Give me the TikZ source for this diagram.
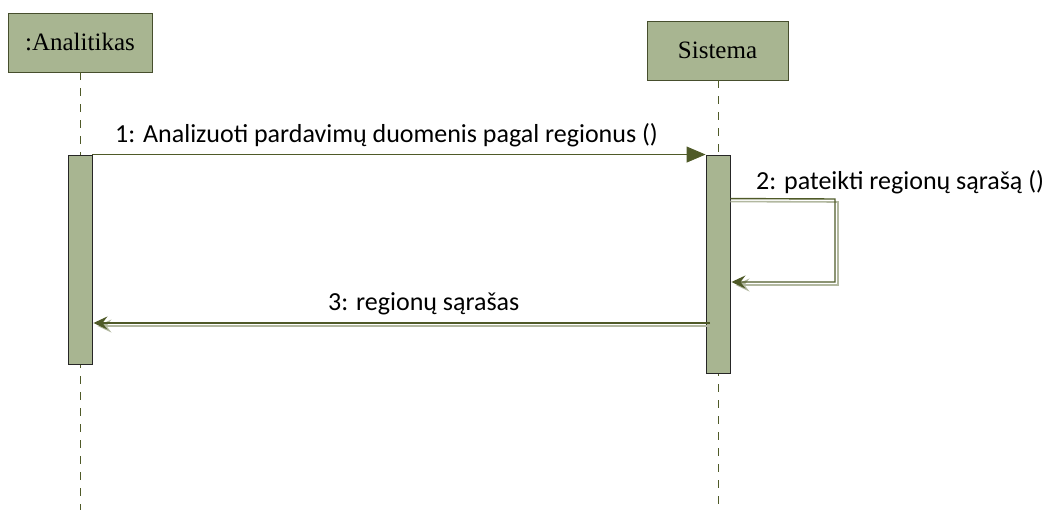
\documentclass[tikz,border=0pt]{standalone}
\usepackage{fontspec}
\setmainfont{Liberation Serif}
\newfontfamily\msgfont{Carlito}
\usetikzlibrary{arrows.meta}
\definecolor{sage}{RGB}{168,181,145}
\definecolor{olive}{RGB}{79,90,40}
\definecolor{edge}{RGB}{70,78,45}
\definecolor{shade}{RGB}{178,184,160}
\tikzset{
  x=1pt, y=-1pt,
  actor/.style={draw=edge, line width=0.9pt, fill=sage, inner sep=0pt, font=\fontsize{25}{28}\selectfont},
  actbar/.style={draw=black!85, line width=0.9pt, fill=sage, inner sep=0pt, minimum width=24pt},
  lifeline/.style={draw=olive, line width=0.8pt, dash pattern=on 8pt off 8pt},
  msg/.style={draw=olive, line width=1.4pt},
  msgshadow/.style={draw=shade, line width=1.6pt},
  msglabel/.style={font=\msgfont\fontsize{26}{30}\selectfont, inner sep=0pt, anchor=base west}
}
\begin{document}
\begin{tikzpicture}
\useasboundingbox (0,0) rectangle (1047,510);
% actors
\node[actor, minimum width=144pt, minimum height=59pt] (ana) at (80,42.5) {:Analitikas};
\node[actor, minimum width=141pt, minimum height=59pt] (sis) at (717.5,50.5) {Sistema};
% lifeline ends
\coordinate (anaEnd) at (80,510);
\coordinate (sisEnd) at (718,510);
\draw[lifeline] (ana.south) -- (anaEnd);
\draw[lifeline] (sis.south -| sisEnd) -- (sisEnd);
% activation bars
\node[actbar, minimum height=209pt] (bar1) at (80,259.5) {};
\node[actbar, minimum height=218pt] (bar2) at (718,264) {};
% message 1
\draw[msg, line width=0.9pt, -{Triangle[length=19pt,width=16pt]}] (bar1.north east) -- (bar2.north west);
\node[msglabel] (l1) at (115,143) {1: Analizuoti pardavimų duomenis pagal regionus ()};
% message 2 (self)
\coordinate (s2a) at ([shift={(0,44)}]bar2.north east);
\coordinate (s2b) at (835,199);
\coordinate (s2c) at (835,282);
\coordinate (s2d) at (bar2.east |- s2c);
\draw[msgshadow, -{Stealth[length=14pt,width=13pt,inset=5pt]}] ([shift={(0,3)}]s2a) -- ([shift={(3,3)}]s2b) -- ([shift={(3,3)}]s2c) -- ([shift={(5,3)}]s2d);
\draw[msg, -{Stealth[length=14pt,width=13pt,inset=5pt]}] (s2a) -- (s2b) -- (s2c) -- ([shift={(1,0)}]s2d);
\node[msglabel] (l2) at (756,190) {2: pateikti regionų sąrašą ()};
% message 3
\coordinate (s3a) at (710,323);
\coordinate (s3b) at (bar1.east |- s3a);
\draw[msgshadow, -{Stealth[length=14pt,width=13pt,inset=5pt]}] ([shift={(0,3)}]s3a) -- ([shift={(5,3)}]s3b);
\draw[msg, -{Stealth[length=14pt,width=13pt,inset=5pt]}] (s3a) -- ([shift={(1,0)}]s3b);
\node[msglabel] (l3) at (328,311) {3: regionų sąrašas};
\end{tikzpicture}
\end{document}
